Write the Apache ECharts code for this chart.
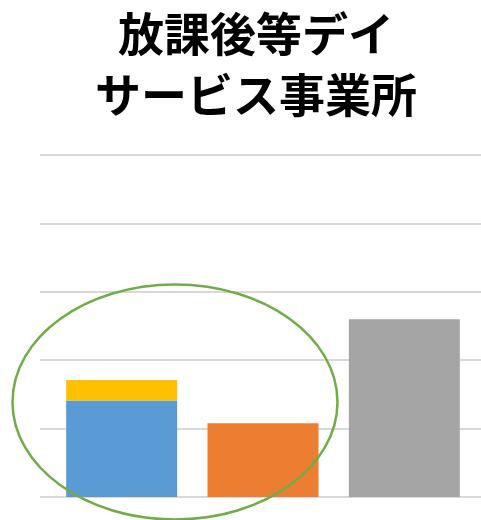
<!DOCTYPE html>
<html><head><meta charset="utf-8">
<script src="https://cdn.jsdelivr.net/npm/echarts@6/dist/echarts.min.js"></script>
<style>html,body{margin:0;padding:0;background:#fff}#c{width:481px;height:520px}</style>
</head><body><div id="c"></div>
<script>
const titleText = '放課後等デイ\nサービス事業所';
const categories = ['A', 'B', 'C'];
const blueValues = [14.1, null, null];
const yellowValues = [3.0, null, null];
const orangeValues = [null, 10.8, null];
const grayValues = [null, null, 26.0];
const yMax = 50, yInterval = 10;

const chart = echarts.init(document.getElementById('c'));
chart.setOption({
  animation: false,
  title: {
    text: titleText, left: 256, top: 3, padding: 0, textAlign: 'center',
    textStyle: { fontFamily: 'Noto Sans CJK JP', fontWeight: 'bold', fontSize: 46, lineHeight: 61, color: '#000' }
  },
  grid: [
    { left: 40, right: 0, top: 155, bottom: 23 },
    { left: 51, right: 6, top: 155, bottom: 23 }
  ],
  xAxis: [
    { gridIndex: 0, type: 'value', show: false, min: 0, max: 1 },
    { gridIndex: 1, type: 'category', data: categories, show: false }
  ],
  yAxis: [
    { gridIndex: 0, type: 'value', min: 0, max: yMax, interval: yInterval,
      axisLabel: { show: false }, axisLine: { show: false }, axisTick: { show: false },
      splitLine: { lineStyle: { color: '#d9d9d9', width: 2 } } },
    { gridIndex: 1, type: 'value', min: 0, max: yMax, interval: yInterval, show: false, splitLine: { show: false } }
  ],
  series: [
    { type: 'bar', xAxisIndex: 1, yAxisIndex: 1, stack: 's', data: blueValues, barWidth: 111, itemStyle: { color: '#5b9bd5' } },
    { type: 'bar', xAxisIndex: 1, yAxisIndex: 1, stack: 's', data: yellowValues, barWidth: 111, itemStyle: { color: '#ffc000' } },
    { type: 'bar', xAxisIndex: 1, yAxisIndex: 1, stack: 's', data: orangeValues, barWidth: 111, itemStyle: { color: '#ed7d31' } },
    { type: 'bar', xAxisIndex: 1, yAxisIndex: 1, stack: 's', data: grayValues, barWidth: 111, itemStyle: { color: '#a5a5a5' } }
  ],
  graphic: [
    { type: 'ellipse', z: 100, shape: { cx: 175, cy: 402, rx: 162.5, ry: 117.5 },
      style: { fill: null, stroke: '#70ad47', lineWidth: 2.5 } }
  ]
});
</script></body></html>
